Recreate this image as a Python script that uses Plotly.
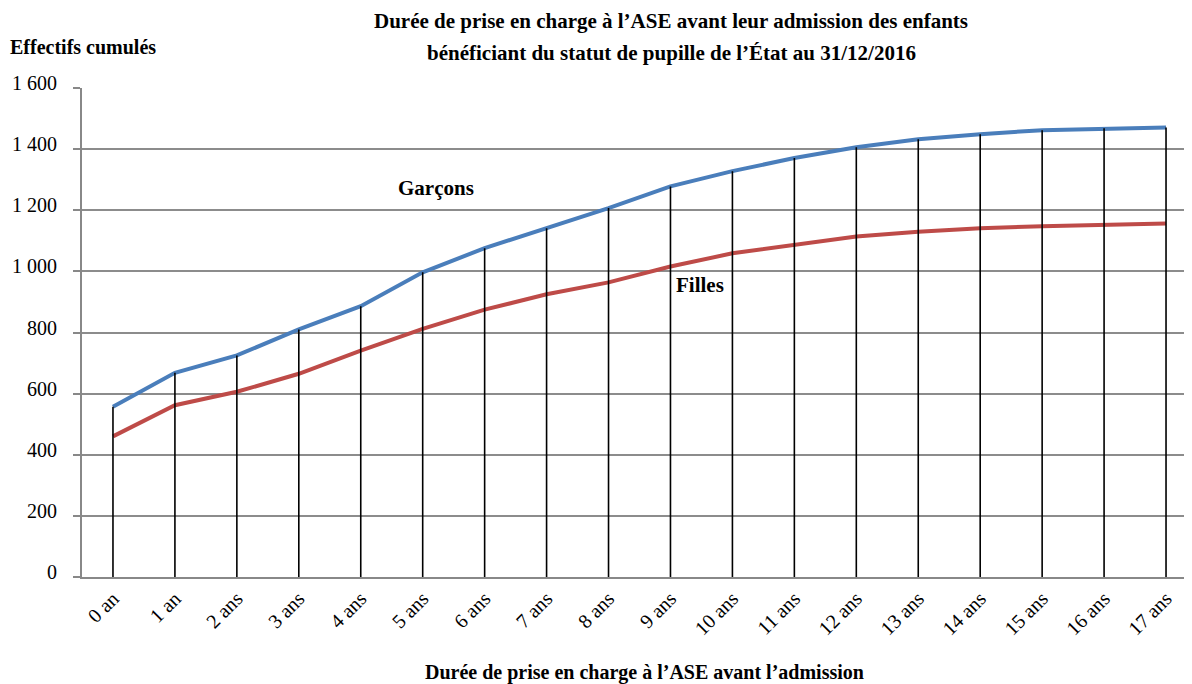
import plotly.graph_objects as go

categories = ["0 an", "1 an", "2 ans", "3 ans", "4 ans", "5 ans", "6 ans", "7 ans", "8 ans",
              "9 ans", "10 ans", "11 ans", "12 ans", "13 ans", "14 ans", "15 ans", "16 ans", "17 ans"]
garcons = [557, 668, 725, 810, 886, 997, 1076, 1141, 1207, 1278, 1328, 1371, 1406, 1432, 1449, 1462, 1468, 1471]
filles = [460, 562, 606, 665, 741, 812, 875, 925, 964, 1016, 1059, 1088, 1114, 1130, 1141, 1148, 1154, 1157]
y_ticks = [0, 200, 400, 600, 800, 1000, 1200, 1400, 1600]

FONT = "Liberation Serif"
idx = list(range(len(categories)))

# page body has an 8px margin; layout is expressed in screen pixels and converted
OFF = 8
L, T, R = 82 - OFF, 88 - OFF, 3
W, H = 1192, 684
BOTTOM = 577 - OFF
PW = W - L - R
PH = BOTTOM - T


def px(sx):
    return (sx - OFF - L) / PW


def py(sy):
    return (BOTTOM - (sy - OFF)) / PH


fig = go.Figure()
fig.add_trace(go.Scatter(x=idx, y=filles, mode="lines", line=dict(color="#be4b48", width=4),
                         showlegend=False, hoverinfo="skip"))
fig.add_trace(go.Scatter(x=idx, y=garcons, mode="lines", line=dict(color="#4a7ebb", width=4),
                         showlegend=False, hoverinfo="skip"))
# drop lines from the Garçons curve to the axis
dx, dy = [], []
for i, v in zip(idx, garcons):
    dx += [i, i, None]
    dy += [0, v, None]
fig.add_trace(go.Scatter(x=dx, y=dy, mode="lines", line=dict(color="black", width=1.6),
                         showlegend=False, hoverinfo="skip"))

fig.update_layout(
    width=W, height=H,
    margin=dict(l=L, r=R, t=T, b=H - BOTTOM),
    paper_bgcolor="white", plot_bgcolor="white",
    separators=", ",
    font=dict(family=FONT, color="black", size=16),
    xaxis=dict(
        range=[-0.5, 17.5], tickmode="array", tickvals=idx, ticktext=categories,
        tickangle=-45, showgrid=False, zeroline=False, automargin=False,
        showline=True, linecolor="#888888", linewidth=2, ticks="",
        tickfont=dict(family=FONT, size=20),
    ),
    yaxis=dict(
        range=[0, 1600], tickmode="array", tickvals=y_ticks, tickformat=",d",
        showgrid=True, gridcolor="#8c8c8c", gridwidth=1.5, zeroline=False, automargin=False,
        showline=True, linecolor="#888888", linewidth=2,
        ticks="outside", ticklen=7, tickcolor="#888888", tickwidth=1.5,
        ticklabelstandoff=12, ticklabelshift=-5,
        tickfont=dict(family=FONT, size=20),
    ),
    annotations=[
        dict(text="<b>Durée de prise en charge à l’ASE avant leur admission des enfants</b>",
             xref="paper", yref="paper", x=px(671), y=py(21),
             showarrow=False, font=dict(family=FONT, size=21), xanchor="center", yanchor="middle"),
        dict(text="<b>bénéficiant du statut de pupille de l’État au 31/12/2016</b>",
             xref="paper", yref="paper", x=px(671), y=py(53),
             showarrow=False, font=dict(family=FONT, size=21), xanchor="center", yanchor="middle"),
        dict(text="<b>Effectifs cumulés</b>",
             xref="paper", yref="paper", x=px(8), y=py(47),
             showarrow=False, font=dict(family=FONT, size=20), xanchor="left", yanchor="middle"),
        dict(text="<b>Durée de prise en charge à l’ASE avant l’admission</b>",
             xref="paper", yref="paper", x=px(645), y=py(672),
             showarrow=False, font=dict(family=FONT, size=20), xanchor="center", yanchor="middle"),
        dict(text="<b>Garçons</b>", xref="paper", yref="paper", x=px(476), y=py(188),
             showarrow=False, font=dict(family=FONT, size=21), xanchor="right", yanchor="middle"),
        dict(text="<b>Filles</b>", xref="paper", yref="paper", x=px(726), y=py(285),
             showarrow=False, font=dict(family=FONT, size=21), xanchor="right", yanchor="middle"),
    ],
)

fig.write_html("out.html")
